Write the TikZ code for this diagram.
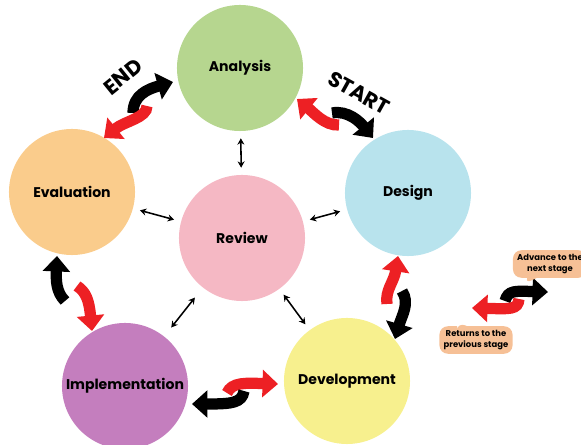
\documentclass[tikz,border=0pt]{standalone}
\usepackage{fontspec}
\setmainfont{Poppins}
\usetikzlibrary{arrows.meta,shapes.callouts}

\definecolor{anagreen}{RGB}{182,214,143}
\definecolor{evalorange}{RGB}{250,204,140}
\definecolor{desblue}{RGB}{184,227,237}
\definecolor{revpink}{RGB}{245,184,196}
\definecolor{imppurple}{RGB}{196,126,190}
\definecolor{devyellow}{RGB}{247,240,142}
\definecolor{arrowred}{RGB}{237,32,36}
\definecolor{noteorange}{RGB}{246,192,150}

\tikzset{
    stage/.style = {circle, minimum size = 3.15cm, inner sep = 0pt, font = \bfseries\fontsize{10}{12}\selectfont},
    link/.style = {{Stealth[length = 4.5pt, width = 5pt]}-{Stealth[length = 4.5pt, width = 5pt]}, line width = 1.1pt, shorten <= 5pt, shorten >= 5pt},
    turn/.style = {line width = 8pt, -{Triangle[width = 19pt, length = 11pt]}},
    fwd/.style = {turn, black},
    back/.style = {turn, arrowred},
    note/.style = {rectangle callout, fill = noteorange, rounded corners = 6pt, align = center, inner sep = 3pt, minimum height = 0.65cm, font = \bfseries\fontsize{6}{7.5}\selectfont},
    tag/.style = {font = \bfseries\fontsize{15}{15}\selectfont}
}

\begin{document}
\begin{tikzpicture}[x = 0.025cm, y = -0.025cm]
        \useasboundingbox (0, 0) rectangle (581, 445);
        \node[stage, fill = anagreen] (ana) at (240, 68) {Analysis};
        \node[stage, fill = desblue] (des) at (408, 193) {Design};
        \node[stage, fill = evalorange] (eval) at (72, 192) {Evaluation};
        \node[stage, fill = revpink] (rev) at (242, 238) {Review};
        \node[stage, fill = imppurple] (imp) at (125, 386) {Implementation};
        \node[stage, fill = devyellow] (dev) at (347, 381) {Development};
        % review talks to every stage
        \draw[link] (rev) -- (ana);
        \draw[link] (rev) -- (eval);
        \draw[link] (rev) -- (des);
        \draw[link, shorten <= 9pt, shorten >= 8pt] (rev) -- (imp);
        \draw[link] (rev) -- (dev);
        % forward (black) and backward (red) turns between neighbours
        \draw[fwd] (133, 113) .. controls (133, 95) and (148, 89) .. (173, 82);
        \draw[back] (147, 106) .. controls (147, 118) and (125, 121) .. (104, 138);
        \draw[fwd] (332, 113) .. controls (348, 110) and (360, 122) .. (373, 138);
        \draw[back] (339, 125) .. controls (325, 126) and (313, 112) .. (297, 99);
        \draw[back] (387, 304) .. controls (385, 290) and (394, 282) .. (398, 256);
        \draw[fwd] (402, 291) .. controls (410, 303) and (402, 315) .. (395, 339);
        \draw[back] (227, 393) .. controls (232, 382) and (245, 383) .. (278, 384);
        \draw[fwd] (244, 391) .. controls (242, 403) and (232, 404) .. (192, 404);
        \draw[fwd] (65, 301) .. controls (56, 292) and (56, 280) .. (57, 256);
        \draw[back] (77, 286) .. controls (86, 292) and (89, 300) .. (92, 331);
        \node[tag, rotate = 39] (endtag) at (123, 77) {END};
        \node[tag, rotate = -29] (starttag) at (359, 93) {START};
        % legend
        \draw[fwd] (505, 301) .. controls (508, 290) and (515, 291) .. (548, 292);
        \draw[back] (519, 299) .. controls (518, 310) and (510, 309) .. (472, 308);
        \coordinate (advptr) at (524, 284);
        \node[note, callout absolute pointer = (advptr)] (adv) at (550, 264) {Advance to the\\next stage};
        \coordinate (retptr) at (458, 322);
        \node[note, callout absolute pointer = (retptr)] (ret) at (476, 340) {Returns to the\\previous stage};
    \end{tikzpicture}
\end{document}
